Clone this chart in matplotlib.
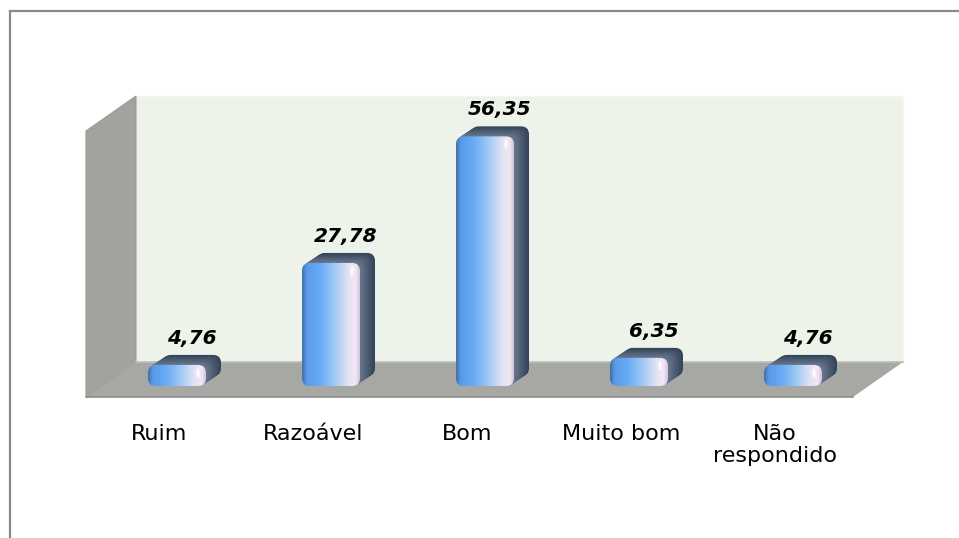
import numpy as np
import matplotlib.pyplot as plt
from matplotlib.patches import Polygon, FancyBboxPatch, Ellipse
from matplotlib.colors import LinearSegmentedColormap, to_rgb
from matplotlib.lines import Line2D

categorias = ['Ruim', 'Razoável', 'Bom', 'Muito bom', 'Não\nrespondido']
valores = [4.76, 27.78, 56.35, 6.35, 4.76]

W, H = 959, 538
fig = plt.figure(figsize=(W / 100, H / 100), dpi=100)
ax = fig.add_axes([0, 0, 1, 1])
ax.axis('off')

# escala aproximada da figura: 1 categoria = 154 px, 1 ponto = 4.43 px
px = 1 / 154
py = 1 / 4.43
xlim = (-177 * px, (W - 177) * px)
ylim = ((386 - H) * py, 386 * py)

# paredes e piso do efeito 3D
fl, fr = -91 * px, 676 * px
fy = -11 * py
dx, dy = 50 * px, 35 * py
topo = 255 * py
ax.add_patch(Polygon([(fl + dx, fy + dy), (fl + dx, topo + dy), (fr + dx, topo + dy), (fr + dx, fy + dy)],
                     closed=True, facecolor='#eef3ea', edgecolor='#f4f7f1', lw=0.8, zorder=1))
ax.add_patch(Polygon([(fl, fy), (fl, topo), (fl + dx, topo + dy), (fl + dx, fy + dy)],
                     closed=True, facecolor='#a2a29f', edgecolor='#9a9a97', lw=0.8, zorder=2))
ax.add_patch(Polygon([(fl, fy), (fr, fy), (fr + dx, fy + dy), (fl + dx, fy + dy)],
                     closed=True, facecolor='#a7a7a4', edgecolor='none', zorder=2))
ax.plot([fl + dx, fr + dx], [fy + dy, fy + dy], color='#bdbdba', lw=1.2, zorder=2)
ax.plot([fl, fr], [fy, fy], color='#8c8c8a', lw=1.2, zorder=2)

# gradiente da face frontal das barras
cmap = LinearSegmentedColormap.from_list('barra', [
    (0.0, '#3f70aa'), (0.08, '#5a9be6'), (0.3, '#66aaf6'),
    (0.55, '#9cc8f4'), (0.8, '#e2e2f4'), (0.93, '#f3e6f4'), (1.0, '#cfc6dc')])
grad = np.linspace(0, 1, 200)[None, :]

hw = 29 * px
bdx, bdy = 15 * px, 10 * py
raio = 8 * px
asp = py / px
escuro = np.array(to_rgb('#33435a'))
claro = np.array(to_rgb('#6b7a8e'))

for i, v in enumerate(valores):
    # extrusao (lado e topo)
    n = 12
    for k in range(n, 0, -1):
        t = k / n
        cor = escuro * t + claro * (1 - t)
        ax.add_patch(FancyBboxPatch((i - hw + t * bdx, t * bdy), 2 * hw, v,
                                    boxstyle=f'round,pad=0,rounding_size={raio}',
                                    mutation_aspect=asp, facecolor=cor, edgecolor='none', zorder=3))
    frente = FancyBboxPatch((i - hw, 0), 2 * hw, v,
                            boxstyle=f'round,pad=0,rounding_size={raio}',
                            mutation_aspect=asp, facecolor='none', edgecolor='none', zorder=4)
    ax.add_patch(frente)
    im = ax.imshow(grad, cmap=cmap, extent=(i - hw, i + hw, 0, v), aspect='auto', zorder=4)
    im.set_clip_path(frente)
    ax.add_patch(Ellipse((i + 21 * px, v - 8 * py), 3.5 * px, 10 * py,
                         facecolor='white', alpha=0.8, edgecolor='none', zorder=5))
    ax.text(i + 15 * px, v + 21 * py, f'{v:.2f}'.replace('.', ','), ha='center', va='baseline',
            fontsize=14.5, fontweight='bold', fontstyle='italic', family='DejaVu Sans', zorder=6)

for i, c in enumerate(categorias):
    ax.text(i - 18 * px, -38 * py, c, ha='center', va='top', fontsize=16,
            family='DejaVu Sans', linespacing=1.1, zorder=6)

ax.set_xlim(*xlim)
ax.set_ylim(*ylim)

# moldura externa
fig.add_artist(Line2D([10 / W, 1], [1 - 11 / H, 1 - 11 / H], color='#8a8a8a', lw=1.6))
fig.add_artist(Line2D([10 / W, 10 / W], [0, 1 - 11 / H], color='#8a8a8a', lw=1.6))

fig.savefig('out.png', dpi=100)
